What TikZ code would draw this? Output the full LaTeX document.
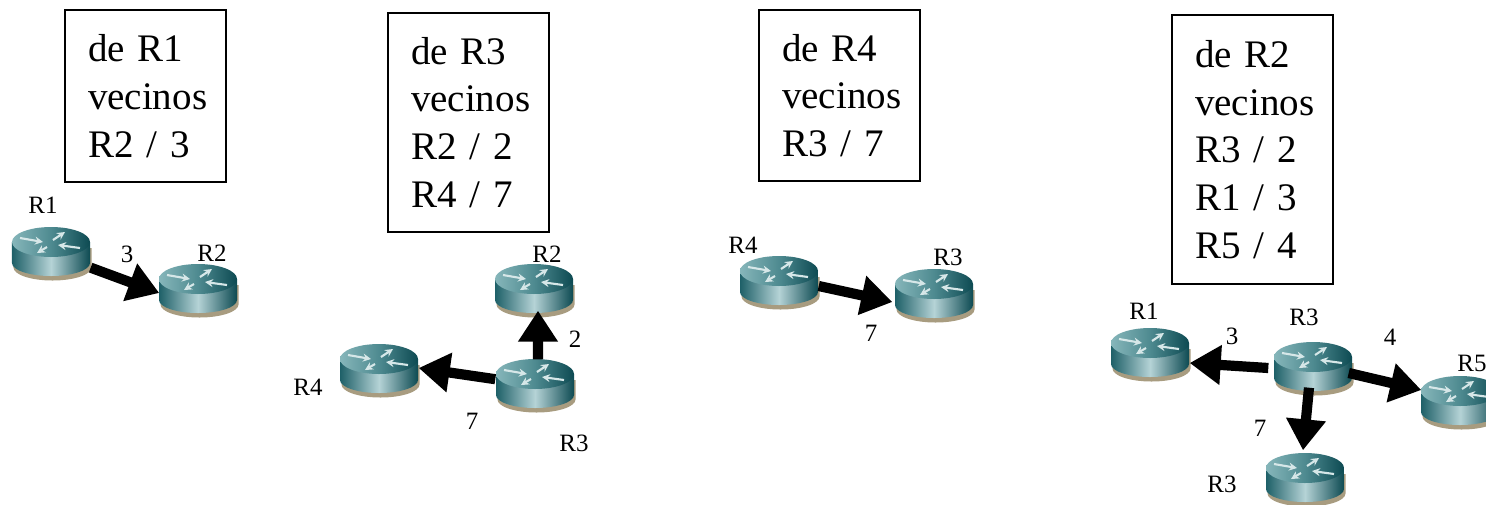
\documentclass[tikz,border=0pt]{standalone}
\usepackage{fontspec}
\setmainfont{Liberation Serif}
\usetikzlibrary{arrows.meta}
\hfuzz=6pt
\definecolor{routerdark}{HTML}{0D4A52}
\definecolor{routerside}{HTML}{1E6068}
\definecolor{routerlight}{HTML}{B5D3D6}
\definecolor{routertop}{HTML}{86B6BA}
\definecolor{routermid}{HTML}{4E8A90}
\definecolor{routershadow}{HTML}{A89C80}
\tikzset{
    infobox/.style={draw, line width=0.6pt, align=left, anchor=center, inner xsep=0.23cm, inner ysep=0pt,
        text width=1.15cm, font=\fontsize{11.1}{13.6}\selectfont},
    routerbox/.style={minimum width=0.78cm, minimum height=0.56cm, inner sep=0pt},
    small/.style={font=\fontsize{7.1}{8}\selectfont, inner sep=0pt},
    link/.style={line width=2.9pt, -{Triangle[length=0.31cm, width=0.38cm]}},
    glyph/.style={line width=0.6pt, color=routerlight!55!white, -{Stealth[length=0.08cm, width=0.08cm]}},
    router/.pic={
        \fill[routershadow] (-0.375,0.05) -- (-0.375,-0.145) arc[start angle=180, end angle=360, x radius=0.39, y radius=0.13] -- (0.405,0.05) -- cycle;
        \path[left color=routerside, right color=routerdark, middle color=routerlight]
            (-0.39,0.11) -- (-0.39,-0.10) arc[start angle=180, end angle=360, x radius=0.39, y radius=0.13] -- (0.39,0.11) -- cycle;
        \path[left color=routertop, right color=routerdark, middle color=routermid] (0,0.11) ellipse[x radius=0.39, y radius=0.15];
        \draw[glyph] (-0.31,0.15) -- (-0.08,0.11);
        \draw[glyph] (0.02,0.13) -- (0.14,0.21);
        \draw[glyph] (0.29,0.05) -- (0.07,0.08);
        \draw[glyph] (-0.04,0.06) -- (-0.14,0.00);
        \node[routerbox] (-n) at (0,0) {};
    }
}

\begin{document}
\begin{tikzpicture}
    \clip (0, 0) rectangle (14.86, 5.04);
    \fill[white] (0, 0) rectangle (14.86, 5.04);

    % tables
    \node[infobox, minimum height=1.72cm] (tableone) at (1.455, 4.08) {de R1\\vecinos\\R2 / 3};
    \node[infobox, minimum height=2.19cm] (tabletwo) at (4.685, 3.815) {de R3\\vecinos\\R2 / 2\\R4 / 7};
    \node[infobox, minimum height=1.71cm] (tablethree) at (8.395, 4.085) {de R4\\vecinos\\R3 / 7};
    \node[infobox, minimum height=2.69cm] (tablefour) at (12.525, 3.545) {de R2\\vecinos\\R3 / 2\\R1 / 3\\R5 / 4};

    % routers
    \pic (onea) at (0.51, 2.51) {router};
    \pic (oneb) at (1.98, 2.14) {router};
    \pic (twoa) at (5.34, 2.14) {router};
    \pic (twob) at (5.35, 1.19) {router};
    \pic (twoc) at (3.79, 1.34) {router};
    \pic (threea) at (7.79, 2.22) {router};
    \pic (threeb) at (9.34, 2.09) {router};
    \pic (foura) at (11.50, 1.50) {router};
    \pic (fourb) at (13.13, 1.36) {router};
    \pic (fourc) at (14.60, 1.02) {router};
    \pic (fourd) at (13.05, 0.25) {router};

    % links
    \draw[link] (onea-n) -- ([xshift=0.01cm, yshift=-0.03cm]oneb-n.west);
    \draw[link] ([xshift=0.03cm, yshift=-0.03cm]twob-n.north) -- ([xshift=0.04cm, yshift=0.08cm]twoa-n.south);
    \draw[link] (twob-n) -- ([yshift=0.02cm]twoc-n.east);
    \draw[link] ([yshift=-0.04cm]threea-n.east) -- ([xshift=-0.02cm, yshift=-0.07cm]threeb-n.west);
    \draw[link] ([xshift=-0.05cm, yshift=0.00cm]fourb-n.west) -- ([yshift=-0.09cm]foura-n.east);
    \draw[link] ([xshift=-0.04cm, yshift=-0.05cm]fourb-n.east) -- ([xshift=0.01cm, yshift=0.12cm]fourc-n.west);
    \draw[link] ([xshift=-0.04cm, yshift=0.09cm]fourb-n.south) -- ([xshift=-0.02cm]fourd-n.north);

    % labels
    \node[small] (nameonea) at (0.43, 2.99) {R1};
    \node[small] (costone) at (1.27, 2.50) {3};
    \node[small] (nameoneb) at (2.12, 2.51) {R2};
    \node[small] (nametwoa) at (5.47, 2.50) {R2};
    \node[small] (costtwoa) at (5.75, 1.65) {2};
    \node[small] (nametwoc) at (3.08, 1.17) {R4};
    \node[small] (costtwob) at (4.72, 0.83) {7};
    \node[small] (nametwob) at (5.74, 0.61) {R3};
    \node[small] (namethreea) at (7.43, 2.59) {R4};
    \node[small] (namethreeb) at (9.48, 2.47) {R3};
    \node[small] (costthree) at (8.71, 1.71) {7};
    \node[small] (namefoura) at (11.44, 1.93) {R1};
    \node[small] (costfoura) at (12.32, 1.68) {3};
    \node[small] (namefourb) at (13.04, 1.87) {R3};
    \node[small] (costfourb) at (13.90, 1.67) {4};
    \node[small] (namefourc) at (14.72, 1.41) {R5};
    \node[small] (costfourc) at (12.60, 0.76) {7};
    \node[small] (namefourd) at (12.22, 0.20) {R3};
\end{tikzpicture}
\end{document}
